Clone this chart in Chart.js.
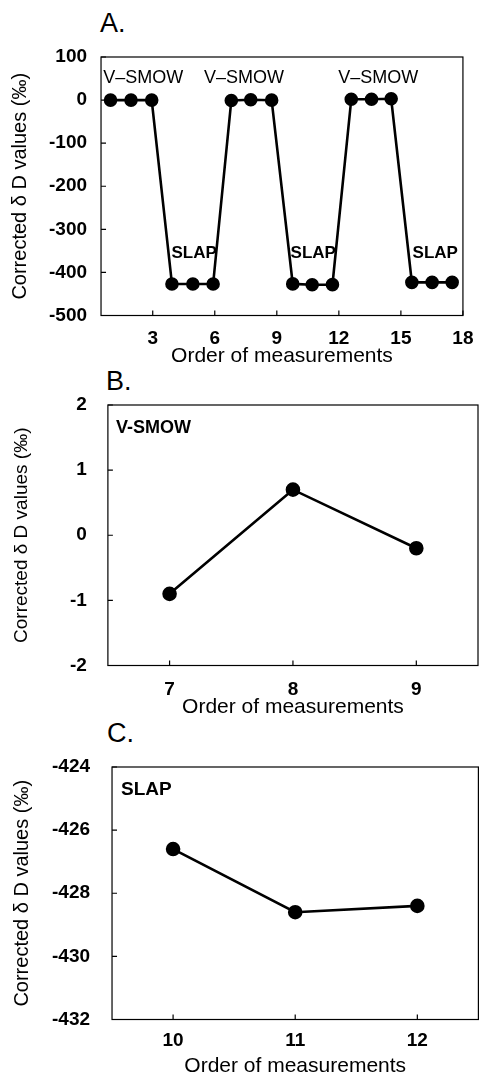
<!DOCTYPE html>
<html>
<head>
<meta charset="utf-8">
<script src="https://cdn.jsdelivr.net/npm/chart.js@4.4.0/dist/chart.umd.min.js"></script>
<style>
  body { margin:0; background:#fff; width:487px; height:1079px; position:relative; overflow:hidden;
         font-family:"Liberation Sans", Arial, sans-serif; }
  canvas { position:absolute; left:0; }
  .tag { position:absolute; font-size:27px; line-height:27px; color:#000; }
</style>
</head>
<body>
<div class="tag" style="left:100px;top:10px">A.</div>
<div class="tag" style="left:106px;top:368px">B.</div>
<div class="tag" style="left:107px;top:720px">C.</div>
<canvas id="chartA" width="487" height="370" style="top:0px"></canvas>
<canvas id="chartB" width="487" height="360" style="top:360px"></canvas>
<canvas id="chartC" width="487" height="367" style="top:712px"></canvas>
<script>
// A: all 18 measurements, V-SMOW / SLAP alternating
var orderA = [0.96, 1.95, 2.95, 3.93, 4.94, 5.92, 6.80, 7.74, 8.75, 9.77, 10.71, 11.69, 12.60, 13.58, 14.53, 15.53, 16.51, 17.48];
var deltaA = [0, 0, 0, -427, -427, -427, -0.9, 0.7, -0.2, -426.6, -428.6, -428.4, 2, 2, 3, -423, -423, -423];
var xTicksA = [3, 6, 9, 12, 15, 18];
var yTicksA = [100, 0, -100, -200, -300, -400, -500];
var notesA = [
  {x: 2.54, y: 51, text: "V\u2013SMOW", size: 18, bold: false},
  {x: 7.41, y: 51, text: "V\u2013SMOW", size: 18, bold: false},
  {x: 13.9, y: 51, text: "V\u2013SMOW", size: 18, bold: false},
  {x: 5.0, y: -355, text: "SLAP", size: 17, bold: true},
  {x: 10.76, y: -355, text: "SLAP", size: 17, bold: true},
  {x: 16.66, y: -355, text: "SLAP", size: 17, bold: true}
];

// B: V-SMOW, measurements 7-9
var orderB = [7, 8, 9];
var deltaB = [-0.9, 0.7, -0.2];
var xTicksB = [7, 8, 9];
var yTicksB = [2, 1, 0, -1, -2];
var notesB = [{x: 6.565, y: 1.645, text: "V-SMOW", size: 18, bold: true, align: "left"}];

// C: SLAP, measurements 10-12
var orderC = [10, 11, 12];
var deltaC = [-426.6, -428.6, -428.4];
var xTicksC = [10, 11, 12];
var yTicksC = [-424, -426, -428, -430, -432];
var notesC = [{x: 9.574, y: -424.73, text: "SLAP", size: 19, bold: true, align: "left"}];

var FONT = "'Liberation Sans', Arial, sans-serif";
var yTitle = "Corrected \u03b4 D values (\u2030)";
var xTitle = "Order of measurements";

// box around plot + inward tick marks
var frame = {
  id: 'frame',
  beforeDatasetsDraw: function(chart) {
    var a = chart.chartArea, c = chart.ctx;
    c.save();
    c.strokeStyle = '#000';
    c.lineWidth = 1.2;
    c.strokeRect(a.left, a.top, a.right - a.left, a.bottom - a.top);
    var xs = chart.scales.x, ys = chart.scales.y;
    c.beginPath();
    xs.ticks.forEach(function(t) {
      var p = xs.getPixelForValue(t.value);
      c.moveTo(p, a.bottom); c.lineTo(p, a.bottom - 5);
    });
    ys.ticks.forEach(function(t) {
      var p = ys.getPixelForValue(t.value);
      c.moveTo(a.left, p); c.lineTo(a.left + 5, p);
    });
    c.stroke();
    c.restore();
  }
};

// text labels placed in data units
var notes = {
  id: 'notes',
  afterDatasetsDraw: function(chart, args, opts) {
    var c = chart.ctx;
    c.save();
    c.fillStyle = '#000';
    c.textBaseline = 'middle';
    (opts.items || []).forEach(function(n) {
      c.font = (n.bold ? 'bold ' : '') + n.size + 'px ' + FONT;
      c.textAlign = n.align || 'center';
      c.fillText(n.text, chart.scales.x.getPixelForValue(n.x), chart.scales.y.getPixelForValue(n.y));
    });
    c.restore();
  }
};

function setTicks(list) {
  return function(scale) { scale.ticks = list.map(function(v) { return {value: v}; }); };
}

function makeChart(id, xs, ys, p) {
  var pts = xs.map(function(x, i) { return {x: x, y: ys[i]}; });
  return new Chart(document.getElementById(id), {
    type: 'line',
    data: { datasets: [{
      data: pts,
      borderColor: '#000',
      backgroundColor: '#000',
      borderWidth: 2.6,
      pointRadius: p.r,
      pointBackgroundColor: '#000',
      tension: 0
    }]},
    options: {
      responsive: false,
      animation: false,
      layout: { padding: p.pad },
      plugins: {
        legend: { display: false },
        tooltip: { enabled: false },
        notes: { items: p.notes }
      },
      scales: {
        x: {
          type: 'linear', min: p.xmin, max: p.xmax,
          afterBuildTicks: setTicks(p.xt),
          grid: { display: false, drawTicks: false },
          border: { display: false },
          ticks: { padding: p.xpad, maxRotation: 0, autoSkip: false, color: '#000',
                   font: { family: FONT, size: 19, weight: 'bold', lineHeight: 1 },
                   callback: function(v) { return String(v); } },
          title: { display: true, text: xTitle, color: '#000',
                   font: { family: FONT, size: 21, lineHeight: 1 },
                   padding: { top: p.xtp, bottom: 0 } }
        },
        y: {
          min: p.ymin, max: p.ymax,
          afterBuildTicks: setTicks(p.yt),
          grid: { display: false, drawTicks: false },
          border: { display: false },
          ticks: { padding: p.ypad, autoSkip: false, color: '#000',
                   font: { family: FONT, size: 19, weight: 'bold', lineHeight: 1 },
                   callback: function(v) { return String(v); } },
          title: { display: true, text: yTitle, color: '#000',
                   font: { family: FONT, size: p.yts, lineHeight: 1 },
                   padding: { top: p.ytop, bottom: p.ybot } }
        }
      }
    },
    plugins: [frame, notes]
  });
}

makeChart('chartA', orderA, deltaA, {
  r: 5.5, notes: notesA, xmin: 0.5, xmax: 18, ymin: -500, ymax: 100, xt: xTicksA, yt: yTicksA,
  pad: {top: 57, left: 0, right: 9, bottom: 3.5}, xpad: 13.5, xtp: -16, ypad: 14, yts: 20, ytop: 10, ybot: 5
});
makeChart('chartB', orderB, deltaB, {
  r: 6, notes: notesB, xmin: 6.5, xmax: 9.5, ymin: -2, ymax: 2, xt: xTicksB, yt: yTicksB,
  pad: {top: 45, left: 0, right: 9, bottom: 2.5}, xpad: 14.5, xtp: -17, ypad: 21, yts: 19, ytop: 12.5, ybot: 17.5
});
makeChart('chartC', orderC, deltaC, {
  r: 6, notes: notesC, xmin: 9.5, xmax: 12.5, ymin: -432, ymax: -424, xt: xTicksC, yt: yTicksC,
  pad: {top: 55, left: 0, right: 8, bottom: 2.5}, xpad: 11.5, xtp: -6, ypad: 22, yts: 20, ytop: 12, ybot: -2
});
</script>
</body>
</html>
